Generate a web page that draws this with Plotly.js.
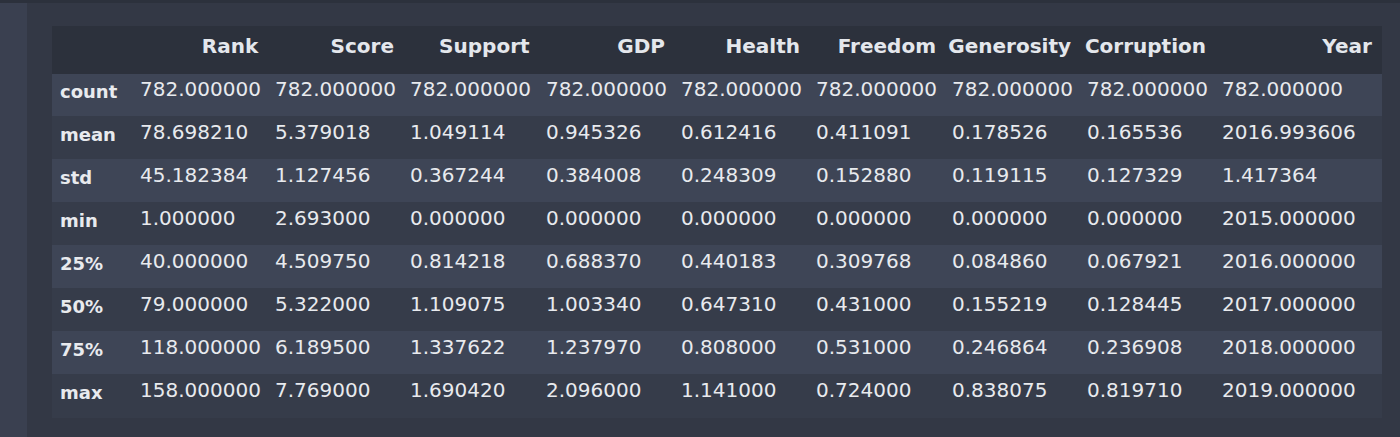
<!DOCTYPE html>
<html>
<head>
<script src="https://cdn.plot.ly/plotly-3.0.1.min.js"></script>
<style>html,body{margin:0;padding:0;background:#333845;}</style>
</head>
<body>
<div id="plot" style="width:1400px;height:437px;"></div>
<script>
const columns = ["Rank", "Score", "Support", "GDP", "Health", "Freedom", "Generosity", "Corruption", "Year"];
const stats = ["count", "mean", "std", "min", "25%", "50%", "75%", "max"];
const rank = ["782.000000", "78.698210", "45.182384", "1.000000", "40.000000", "79.000000", "118.000000", "158.000000"];
const score = ["782.000000", "5.379018", "1.127456", "2.693000", "4.509750", "5.322000", "6.189500", "7.769000"];
const support = ["782.000000", "1.049114", "0.367244", "0.000000", "0.814218", "1.109075", "1.337622", "1.690420"];
const gdp = ["782.000000", "0.945326", "0.384008", "0.000000", "0.688370", "1.003340", "1.237970", "2.096000"];
const health = ["782.000000", "0.612416", "0.248309", "0.000000", "0.440183", "0.647310", "0.808000", "1.141000"];
const freedom = ["782.000000", "0.411091", "0.152880", "0.000000", "0.309768", "0.431000", "0.531000", "0.724000"];
const generosity = ["782.000000", "0.178526", "0.119115", "0.000000", "0.084860", "0.155219", "0.246864", "0.838075"];
const corruption = ["782.000000", "0.165536", "0.127329", "0.000000", "0.067921", "0.128445", "0.236908", "0.819710"];
const year = ["782.000000", "2016.993606", "1.417364", "2015.000000", "2016.000000", "2017.000000", "2018.000000", "2019.000000"];

const rowFill = stats.map((s, i) => (i % 2 === 0 ? "#3e4556" : "#363c4a"));
const nCols = columns.length + 1;
const allFill = Array.from({ length: nCols }, () => rowFill);
const headFill = "#2c313c";

const trace = {
  type: "table",
  domain: { x: [52 / 1400, 1381 / 1400], y: [1 - 418 / 437, 1 - 26 / 437] },
  columnwidth: [80, 135, 135, 136, 135, 135, 136, 135, 135, 167],
  header: {
    values: [""].concat(columns.map((c) => "<b>" + c + "</b>")),
    align: "right",
    height: 47,
    fill: { color: headFill },
    line: { color: headFill, width: 1 },
    font: { family: "DejaVu Sans, sans-serif", size: 20, color: "#e4e7ec" },
  },
  cells: {
    values: [stats.map((s) => "<b>" + s + "</b>"), rank, score, support, gdp, health, freedom, generosity, corruption, year],
    align: "left",
    height: 43,
    fill: { color: allFill },
    line: { color: allFill, width: 1 },
    font: { family: "DejaVu Sans, sans-serif", size: [18, 20, 20, 20, 20, 20, 20, 20, 20, 20], color: "#e8eaee" },
  },
};

const layout = {
  width: 1400,
  height: 437,
  margin: { l: 0, r: 0, t: 0, b: 0 },
  paper_bgcolor: "#333845",
  shapes: [
    { type: "rect", xref: "paper", yref: "paper", x0: 0, x1: 27 / 1400, y0: 0, y1: 1, fillcolor: "#3a4050", line: { width: 0 }, layer: "below" },
    { type: "rect", xref: "paper", yref: "paper", x0: 0, x1: 1, y0: 1 - 3 / 437, y1: 1, fillcolor: "#2c313c", line: { width: 0 }, layer: "below" },
  ],
};

Plotly.newPlot("plot", [trace], layout, { displayModeBar: false, staticPlot: true });
</script>
</body>
</html>
